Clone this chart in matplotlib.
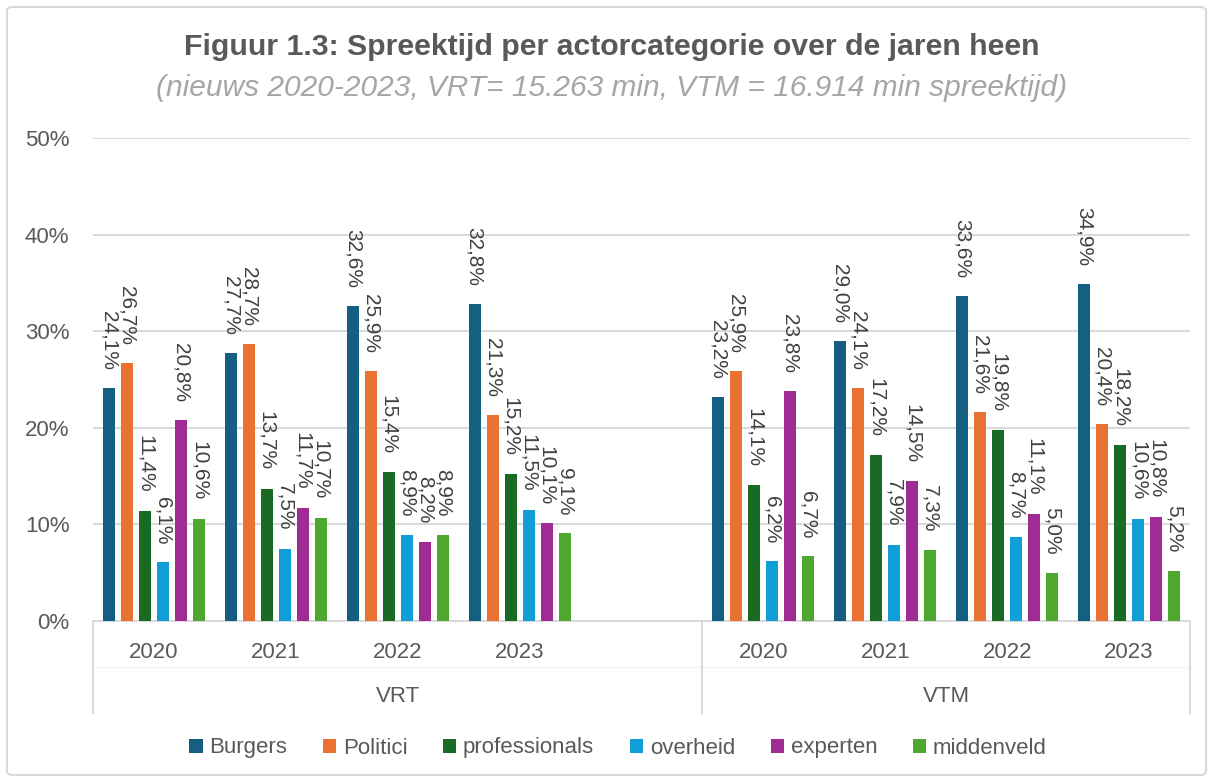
import matplotlib
matplotlib.use("Agg")
import matplotlib.pyplot as plt
from matplotlib.patches import FancyBboxPatch, Patch
import numpy as np

# ---- data ----
series = ["Burgers", "Politici", "professionals", "overheid", "experten", "middenveld"]
colors = ["#156082", "#E97132", "#196B24", "#0F9ED5", "#A02B93", "#4EA72E"]
years = ["2020", "2021", "2022", "2023"]
groups = ["VRT", "VTM"]

vrt_burgers = [24.1, 27.7, 32.6, 32.8]
vrt_politici = [26.7, 28.7, 25.9, 21.3]
vrt_professionals = [11.4, 13.7, 15.4, 15.2]
vrt_overheid = [6.1, 7.5, 8.9, 11.5]
vrt_experten = [20.8, 11.7, 8.2, 10.1]
vrt_middenveld = [10.6, 10.7, 8.9, 9.1]

vtm_burgers = [23.2, 29.0, 33.6, 34.9]
vtm_politici = [25.9, 24.1, 21.6, 20.4]
vtm_professionals = [14.1, 17.2, 19.8, 18.2]
vtm_overheid = [6.2, 7.9, 8.7, 10.6]
vtm_experten = [23.8, 14.5, 11.1, 10.8]
vtm_middenveld = [6.7, 7.3, 5.0, 5.2]

yticks = [0, 10, 20, 30, 40, 50]

vrt = [vrt_burgers, vrt_politici, vrt_professionals, vrt_overheid, vrt_experten, vrt_middenveld]
vtm = [vtm_burgers, vtm_politici, vtm_professionals, vtm_overheid, vtm_experten, vtm_middenveld]

# ---- layout ----
W, H = 1213, 782
fig = plt.figure(figsize=(W / 100, H / 100), dpi=100)
FONT = ["Liberation Sans", "DejaVu Sans"]
NARROW = ["Liberation Sans Narrow", "Liberation Sans", "DejaVu Sans"]
TXT = "#595959"
GRID = "#D9D9D9"

# border
fig.patches.append(FancyBboxPatch((7 / W, 7 / H), (W - 14) / W, (H - 14) / H,
                                  boxstyle="round,pad=0,rounding_size=0.005",
                                  transform=fig.transFigure, fill=False,
                                  edgecolor=GRID, linewidth=1.5))

x0, x1, ytop, ybot = 93, 1190, 138, 621
ax = fig.add_axes([x0 / W, (H - ybot) / H, (x1 - x0) / W, (ybot - ytop) / H])

# category slots: VRT 0..3, blank 4, VTM 5..8
vrt_x = np.arange(4)
vtm_x = np.arange(4) + 5
nslots = 9
bw = 0.098
step = 0.1475
offs = (np.arange(len(series)) - (len(series) - 1) / 2) * step

for i, (name, col) in enumerate(zip(series, colors)):
    for xs, data in ((vrt_x, vrt[i]), (vtm_x, vtm[i])):
        bars = ax.bar(xs + offs[i], data, width=bw, color=col,
                      label=name if xs is vrt_x else None, zorder=3)
        for b, v in zip(bars, data):
            ax.annotate(f"{v:.1f}%".replace(".", ","),
                        (b.get_x() + b.get_width() / 2, b.get_height()),
                        xytext=(0, 13), textcoords="offset points",
                        rotation=270, ha="center", va="bottom",
                        fontsize=15, color="#404040", family=FONT, zorder=4)

ax.set_xlim(-0.5, nslots - 0.5)
ax.set_ylim(0, 50)
ax.set_yticks(yticks)
ax.set_yticklabels([f"{t}%" for t in yticks], family=FONT, fontsize=16, color=TXT)
ax.tick_params(axis="y", length=0, pad=17)
ax.set_xticks([])
ax.grid(axis="y", color=GRID, linewidth=1.4, zorder=0)
for s in ["top", "right", "left"]:
    ax.spines[s].set_visible(False)
ax.spines["bottom"].set_color(GRID)
ax.spines["bottom"].set_linewidth(1.4)

# multi-level category axis
tr = ax.get_xaxis_transform()
ppy = 1 / (ybot - ytop)
for xs in (vrt_x, vtm_x):
    for x, y in zip(xs, years):
        ax.text(x, -31 * ppy, y, transform=tr, ha="center", va="center",
                fontsize=16, color=TXT, family=FONT)
ax.text(2.0, -76 * ppy, groups[0], transform=tr, ha="center", va="center",
        fontsize=16, color=TXT, family=FONT)
ax.text(6.5, -76 * ppy, groups[1], transform=tr, ha="center", va="center",
        fontsize=16, color=TXT, family=FONT)
for xs in (-0.5, 4.5, 8.5):
    ax.plot([xs, xs], [0, -92 * ppy], transform=tr, color=GRID, lw=1.4,
            clip_on=False, zorder=2)
ax.plot([-0.5, 8.5], [-46 * ppy, -46 * ppy], transform=tr, color="#F2F2F2",
        lw=1.0, clip_on=False, zorder=1)

# titles
fig.text(612 / W, 1 - 47 / H, "Figuur 1.3: Spreektijd per actorcategorie over de jaren heen",
         ha="center", va="center", fontsize=21.8, fontweight="bold", color=TXT, family=NARROW)
fig.text(612 / W, 1 - 88 / H,
         "(nieuws 2020-2023, VRT= 15.263 min, VTM = 16.914 min spreektijd)",
         ha="center", va="center", fontsize=21.5, style="italic", color="#A6A6A6", family=NARROW)

# legend
handles = [Patch(facecolor=c, label=n) for n, c in zip(series, colors)]
fig.legend(handles=handles, loc="center", bbox_to_anchor=(618 / W, 1 - 748 / H),
           ncol=6, frameon=False, prop={"family": NARROW, "size": 16},
           labelcolor=TXT, handlelength=0.6, handleheight=0.6, handletextpad=0.3,
           columnspacing=1.6)

fig.savefig("out.png", dpi=100)
